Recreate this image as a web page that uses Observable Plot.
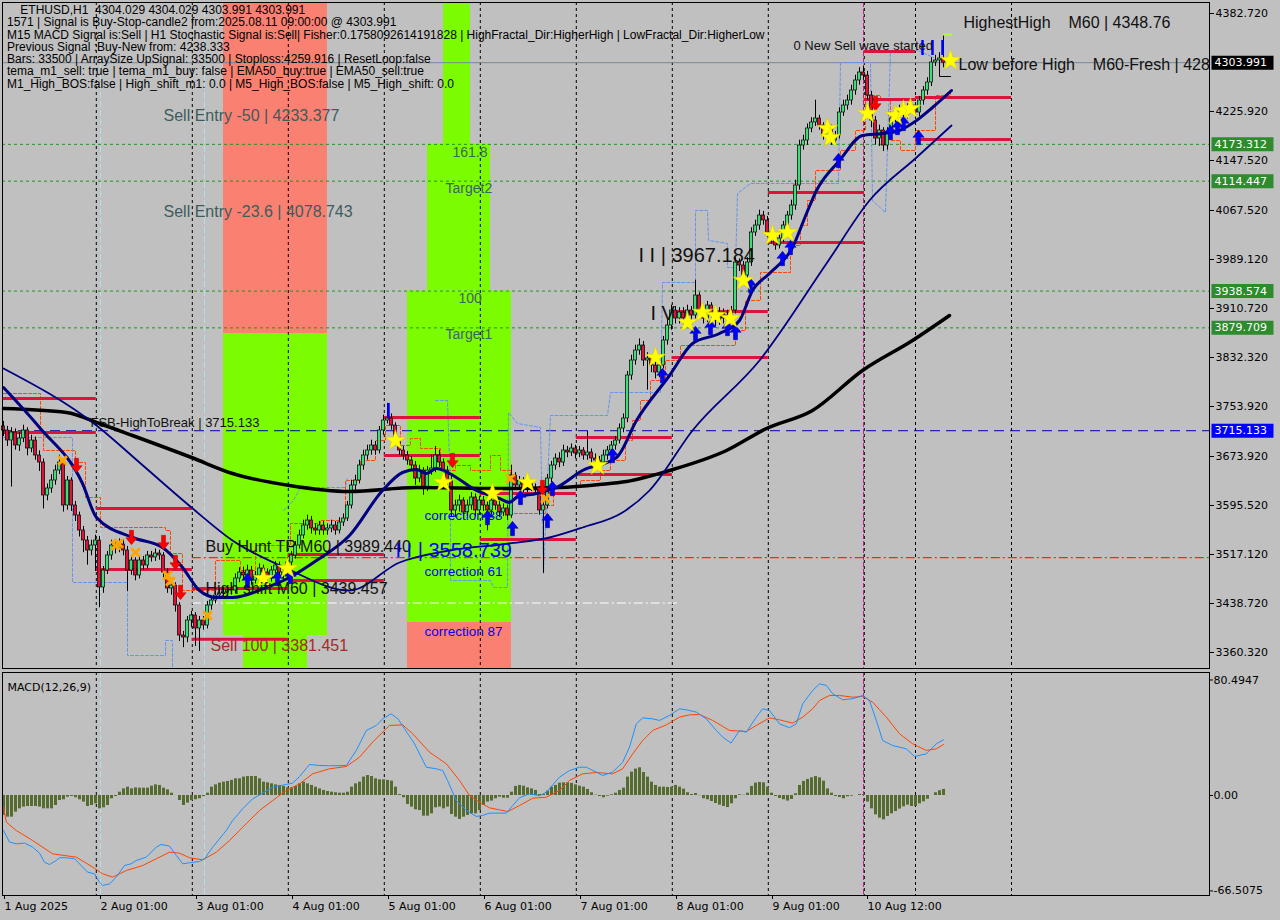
<!DOCTYPE html>
<html><head><meta charset="utf-8">
<script src="https://cdn.jsdelivr.net/npm/d3@7"></script>
<script src="https://cdn.jsdelivr.net/npm/@observablehq/plot@0.6"></script>
<style>
html,body{margin:0;padding:0;background:#c0c0c0;}
body{width:1280px;height:920px;overflow:hidden;position:relative;}
#main{position:absolute;left:0;top:0;}
#macd{position:absolute;left:0;top:670px;}
#header{position:absolute;left:7px;top:4px;font:12px "Liberation Sans",Arial,sans-serif;line-height:12.3px;white-space:pre;color:#000;}
svg{overflow:visible}
</style></head><body>
<div id="main"></div><div id="macd"></div><div id="header"></div>
<script>
// ---------------- DATA ----------------
const headerLines = [
  "    ETHUSD,H1  4304.029 4304.029 4303.991 4303.991",
  "1571 | Signal is Buy-Stop-candle2 from:2025.08.11 09:00:00 @ 4303.991",
  "M15 MACD Signal is:Sell | H1 Stochastic Signal is:Sell| Fisher:0.1758092614191828 | HighFractal_Dir:HigherHigh | LowFractal_Dir:HigherLow",
  "Previous Signal :Buy-New from: 4238.333",
  "Bars: 33500 | ArraySize UpSignal: 33500 | Stoploss:4259.916 | ResetLoop:false",
  "tema_m1_sell: true | tema_m1_buy: false | EMA50_buy:true | EMA50_sell:true",
  "M1_High_BOS:false | High_shift_m1: 0.0 | M5_High_BOS:false | M5_High_shift: 0.0"
];

const tickBars = [0,24,48,72,96,120,144,168,192,215.75];
const tickLabels = ["1 Aug 2025","2 Aug 01:00","3 Aug 01:00","4 Aug 01:00","5 Aug 01:00","6 Aug 01:00","7 Aug 01:00","8 Aug 01:00","9 Aug 01:00","10 Aug 12:00"];
const gridBars = [23.2,47.2,71.2,95.2,119.2,143.2,167.2,191.2,215.2,228,252];
const priceTicks = [4382.72,4225.92,4147.52,4067.52,3989.12,3910.72,3832.32,3753.92,3673.92,3595.52,3517.12,3438.72,3360.32];
const macdTicks = [80.4947, 0, -66.5075];

const firstOpen = 3722;
const closes = [3715.5,3699.5,3712.3,3691.5,3702.7,3715.5,3686.7,3699.5,3675.5,3664.3,
3611.5,3622.7,3635.5,3651.5,3664.3,3595.5,3635.5,3595.5,3579.5,3555.5,
3539.5,3523.5,3531.5,3539.5,3464.3,3491.5,3515.5,3531.5,3526.7,3533.1,
3523.5,3491.5,3507.5,3483.5,3507.5,3499.5,3515.5,3512.3,3518.7,3515.5,
3488.3,3462.7,3467.5,3435.5,3387.5,3384.3,3411.5,3419.5,3398.7,3411.5,
3403.5,3435.5,3443.5,3451.5,3454.7,3456.3,3459.5,3459.5,3478.7,3488.3,
3483.5,3491.5,3475.5,3483.5,3494.7,3488.3,3478.7,3491.5,3499.5,3488.3,
3483.5,3504.3,3515.5,3531.5,3547.5,3563.5,3571.5,3558.7,3555.5,3563.5,
3555.5,3558.7,3563.5,3555.5,3568.3,3574.7,3595.5,3627.5,3635.5,3659.5,
3675.5,3683.5,3691.5,3683.5,3715.5,3731.5,3734.7,3723.5,3699.5,3683.5,
3675.5,3667.5,3659.5,3638.7,3651.5,3622.7,3651.5,3654.7,3675.5,3664.3,
3651.5,3635.5,3587.5,3595.5,3603.5,3584.3,3595.5,3608.3,3587.5,3603.5,
3595.5,3587.5,3603.5,3595.5,3584.3,3590.7,3579.5,3643.5,3627.5,3635.5,
3622.7,3630.7,3624.3,3619.5,3587.5,3595.5,3638.7,3659.5,3670.7,3664.3,
3683.5,3680.3,3686.7,3678.7,3683.5,3675.5,3680.3,3670.7,3667.5,3664.3,
3675.5,3683.5,3691.5,3699.5,3718.7,3734.7,3803.5,3827.5,3843.5,3851.5,
3827.5,3830.7,3819.5,3808.3,3819.5,3859.5,3883.5,3907.5,3894.7,3904.3,
3894.7,3907.5,3899.5,3931.5,3907.5,3894.7,3915.5,3899.5,3891.5,3904.3,
3894.7,3899.5,3907.5,3984.3,3979.5,3963.5,3984.3,4032.3,4043.5,4059.5,
4051.5,4032.3,4022.7,4011.5,4022.7,4043.5,4059.5,4075.5,4107.5,4171.5,
4179.5,4198.7,4208.3,4214.7,4203.5,4187.5,4198.7,4179.5,4187.5,4224.3,
4235.5,4243.5,4259.5,4275.5,4288.3,4283.5,4251.5,4211.5,4182.7,4195.5,
4171.5,4192.3,4214.7,4224.3,4227.5,4219.5,4230.7,4235.5,4224.3,4243.5,
4259.5,4272.3,4304.3,4307.5,4310.7,4303.991];
const highs = [3730,3722,3720,3718,3712,3724,3720,3708,3705,3683,
3670,3630,3645,3660,3676,3670,3642,3640,3602,3585,
3562,3546,3540,3548,3546,3498,3522,3540,3538,3542,
3540,3530,3514,3512,3514,3514,3522,3522,3526,3524,
3520,3494,3474,3472,3440,3394,3418,3426,3424,3418,
3418,3442,3450,3458,3462,3464,3466,3468,3486,3496,
3497,3500,3498,3490,3502,3500,3494,3498,3506,3505,
3494,3512,3522,3538,3556,3572,3580,3578,3566,3570,
3570,3566,3572,3570,3576,3582,3602,3636,3644,3668,
3684,3692,3700,3698,3722,3740,3759,3742,3728,3704,
3690,3682,3674,3666,3660,3656,3658,3676,3690,3684,
3670,3658,3642,3604,3612,3608,3604,3616,3614,3610,
3610,3602,3610,3610,3602,3598,3596,3660,3648,3642,
3640,3638,3636,3630,3626,3602,3645,3666,3678,3680,
3692,3690,3694,3692,3690,3688,3714,3686,3678,3674,
3684,3690,3698,3706,3726,3742,3810,3836,3852,3862,
3858,3840,3836,3826,3828,3866,3892,3916,3914,3912,
3912,3916,3914,3956,3936,3914,3922,3920,3906,3912,
3910,3908,3914,3992,3990,3986,3992,4040,4052,4068,
4066,4058,4038,4028,4030,4050,4066,4084,4116,4180,
4188,4206,4216,4244,4220,4208,4206,4204,4194,4232,
4244,4252,4268,4284,4296,4298,4290,4258,4218,4204,
4200,4200,4222,4232,4236,4234,4238,4242,4240,4250,
4266,4280,4312,4316,4320,4348.76];
const lows = [3706,3690,3625,3684,3682,3696,3675,3680,3668,3650,
3590,3603,3615,3628,3645,3585,3588,3586,3570,3545,
3520,3500,3515,3490,3432,3455,3485,3508,3518,3520,
3515,3458,3484,3475,3478,3492,3494,3505,3506,3508,
3480,3455,3452,3425,3378,3368,3376,3400,3370,3362,
3396,3398,3428,3438,3445,3448,3450,3452,3454,3472,
3476,3476,3468,3470,3478,3480,3472,3473,3486,3482,
3476,3478,3498,3510,3526,3542,3556,3550,3548,3548,
3548,3548,3552,3548,3550,3562,3570,3590,3620,3630,
3652,3668,3676,3676,3678,3708,3726,3716,3692,3676,
3668,3660,3650,3628,3632,3612,3618,3644,3648,3656,
3640,3626,3578,3576,3585,3574,3578,3588,3578,3580,
3586,3555,3580,3588,3576,3578,3572,3575,3620,3620,
3616,3616,3618,3612,3580,3487,3590,3632,3652,3656,
3658,3672,3674,3670,3672,3668,3668,3662,3660,3656,
3658,3668,3676,3684,3694,3712,3728,3796,3820,3836,
3818,3780,3808,3798,3800,3814,3852,3876,3886,3886,
3884,3888,3890,3894,3900,3886,3888,3890,3882,3884,
3886,3886,3890,3902,3970,3952,3958,3978,4026,4036,
4044,4024,4014,4004,4006,4016,4036,4052,4068,4100,
4164,4172,4192,4202,4196,4180,4180,4172,4172,4182,
4218,4228,4236,4252,4268,4276,4244,4200,4172,4170,
4162,4164,4186,4208,4218,4212,4214,4224,4216,4218,
4236,4252,4266,4298,4300,4296];

// moving averages [bar, price]
const sma200 = [[0,3750.7],[15.75,3744.3],[24,3726.7],[32.25,3707.5],[47,3672.3],[57.25,3646.7],[71.5,3627.5],[86.5,3617.9],[103.25,3624.3],[124,3622.7],[139,3624.3],[149,3629.1],[155.75,3633.9],[166.5,3651.5],[180.75,3683.5],[190.75,3718.7],[202.25,3747.5],[214.75,3811.5],[227.25,3859.5],[236.5,3899.5]];
const emaFast = [[0,3784.3],[9,3720.3],[19.75,3630.7],[23.25,3576.3],[32.25,3544.3],[39.75,3528.3],[44.75,3496.3],[49,3459.5],[53.25,3448.3],[57.25,3448.3],[65.75,3464.3],[71.5,3480.3],[78.25,3507.5],[86.5,3547.5],[94.75,3619.5],[99.75,3648.3],[103.25,3653.1],[105.75,3646.7],[108.25,3654.7],[111.5,3646.7],[118.25,3619.5],[124,3606.7],[126.5,3600.3],[128.25,3608.3],[133.25,3614.7],[138.25,3624.3],[144.75,3651.5],[153.25,3672.3],[158.25,3731.5],[166.5,3803.5],[172.25,3854.7],[179,3870.7],[184,3891.5],[187.25,3939.5],[191.5,3966.7],[197.25,4008.3],[200.75,4062.7],[203.25,4099.5],[209,4147.5],[214.75,4187.5],[219.75,4190.7],[224,4195.5],[228.25,4211.5],[232.25,4232.3],[237,4259.5]];
const emaSlow = [[0,3814.7],[23.25,3723.5],[34,3664.3],[47,3592.3],[57.25,3539.5],[70.75,3494.7],[86.5,3459.5],[99,3504.3],[111.5,3523.5],[126.5,3534.7],[136.5,3544.3],[144.75,3560.3],[154.75,3584.3],[161.5,3619.5],[172.25,3715.5],[189,3827.5],[205.75,3982.7],[216.5,4083.5],[228.25,4152.3],[237,4203.5]];

// trailing stop lines
const orangeTrail = [[0,3774.7],[9.25,3715.5],[10,3683.5],[16.75,3683.5],[18,3664.3],[20.5,3608.3],[24.25,3560.3],[40.5,3555.5],[41.75,3518.7],[44.75,3459.5],[49.25,3459.5],[53,3507.5],[59.25,3491.5],[63,3531.5],[71.75,3566.7],[79.25,3571.5],[85.5,3635.5],[89.25,3667.5],[93,3699.5],[95.5,3723.5],[99.25,3691.5],[101.75,3702.7],[104.25,3686.7],[109.25,3651.5],[113,3659.5],[116.75,3651.5],[121.75,3675.5],[124.25,3651.5],[126.75,3582.7],[135.5,3595.5],[137.5,3624.3],[144.25,3635.5],[149.25,3651.5],[151.75,3667.5],[155.5,3699.5],[157.25,3731.5],[159.25,3763.5],[161.75,3795.5],[165.5,3827.5],[169.25,3851.5],[183,3875.5],[185.5,3923.5],[189.25,3968.3],[196.75,4011.5],[199.25,4043.5],[201,4083.5],[203,4131.5],[209.25,4163.5],[213,4195.5],[215.5,4251.5],[219.25,4243.5],[221.75,4179.5],[224.25,4163.5],[228,4195.5],[233,4251.5],[236.75,4259.5]];
const blueTrailA = [[0,3704.3],[17.25,3704.3],[17.25,3472.3],[31,3472.3],[31,3355.5],[40.5,3355.5],[40.5,3379.5],[42.25,3379.5],[42.25,3334.7]];
const blueTrailB = [[70,3587.5],[72.5,3603.5],[74.25,3624.3],[85.5,3624.3],[86,3640]];
const blueTrailC = [[108,3763.5],[111,3763.5],[111.75,3619.5],[111.75,3475.5],[121.75,3475.5],[122.5,3464.3],[126,3464.3],[126.25,3744.3],[128.5,3726.7],[134.25,3720.3],[135,3486.7],[136.75,3739.5],[151,3739.5],[151.75,3776.3],[164.25,3776.3],[164.75,3952.3],[173,3952.3],[173,4067.5],[176,4067.5],[176.25,4019.5],[181,4014.7],[181,3976.3],[183,3976.3],[183.5,4094.7],[186.75,4110.7],[208.75,4110.7],[209.25,4304.3],[216.75,4304.3],[217.25,4083.5],[220.5,4064.3],[221.75,4323.5],[228.5,4323.5],[232.5,4312.3]];

// zones
const salmonZones = [{b1:55,b2:81,p1:3870.7,p2:4400.3},{b1:101,b2:127,p1:3334.7,p2:3408.3}];
const greenZones = [{b1:55,b2:81,p1:3387.5,p2:3870.7},{b1:60,b2:76,p1:3334.7,p2:3387.5},{b1:110,b2:116.75,p1:4173.312,p2:4400.3},{b1:106,b2:121.75,p1:3938.574,p2:4173.312},{b1:101,b2:127,p1:3408.3,p2:3938.574}];

// levels
const greenLevels = [4173.312, 4114.447, 3938.574, 3879.709];
const fsbLevel = [3715.133];
const lastPrice = [4303.991];
const redDashDot = [{p:3512, b1:47.2, b2:301.5}];
const whiteDashDot = [{p:3439.457, b1:47.2, b2:168.75}];
const redSegments = [
 {b1:0,b2:23.2,p:3766.7},{b1:0,b2:23.2,p:3712.3},
 {b1:23.2,b2:47.2,p:3590.7},{b1:23.2,b2:47.2,p:3493.1},
 {b1:47.2,b2:71.2,p:3462.7},{b1:47.2,b2:71.2,p:3381.451},
 {b1:71.2,b2:95.2,p:3517.1},{b1:71.2,b2:95.2,p:3475.5},
 {b1:95.2,b2:119.2,p:3736.3},{b1:95.2,b2:119.2,p:3675.5},
 {b1:119.2,b2:143.2,p:3614.7},{b1:119.2,b2:143.2,p:3541.1},
 {b1:143.2,b2:167.2,p:3704.3},{b1:143.2,b2:167.2,p:3645.1},
 {b1:167.2,b2:191.2,p:3905.9},{b1:167.2,b2:191.2,p:3832.3},
 {b1:191.2,b2:215.2,p:4096.3},{b1:191.2,b2:215.2,p:4016.3},
 {b1:215.2,b2:228,p:4321.9},{b1:215.2,b2:228,p:4245.1},
 {b1:228,b2:252,p:4248.3},{b1:228,b2:252,p:4181.1}];
const blueTicks = [{b:229.75,p1:4339.5,p2:4315.5},{b:232.25,p1:4339.5,p2:4315.5},{b:234.75,p1:4339.5,p2:4315.5},{b:96.25,p1:3758.7,p2:3734.7}];
const magentaBar = [215];
const cyanBars = [24.25, 50.25];

// markers [bar, price]
const stars = [[65,3478.7],[71,3494.7],[98,3699.5],[110,3632.3],[122.25,3614.7],[131,3632.3],[148.5,3659.5],[163,3832.3],[171,3888.3],[174.75,3904.3],[178,3899.5],[181.75,3894.7],[185,3955.5],[192.25,4027.5],[196,4032.3],[206,4198.7],[206.75,4184.3],[216,4222.7],[223,4219.5],[225,4227.5],[226.75,4230.7],[236.75,4307.5]];
const upArrows = [[61,3475.5],[68.5,3478.7],[71.75,3481.9],[121,3576.3],[127.25,3558.7],[129.25,3608.3],[136,3571.5],[137.25,3622.7],[152.25,3675.5],[164.75,3803.5],[173,3870.7],[176.75,3880.3],[181,3878.7],[183,3872.3],[186.75,3947.5],[194.75,3990.7],[196.75,4008.3],[208.75,4147.5],[221.75,4192.3],[223.5,4200.3],[225,4206.7],[228.75,4184.3]];
const downArrows = [[18.25,3659.5],[32,3544.3],[40,3536.3],[43,3504.3],[44.25,3456.3],[112.25,3667.5],[134.75,3624.3],[218,4238.7]];
const crosses = [[14.75,3667.5],[28,3531.5],[28.75,3534.7],[33,3520.3],[41,3483.5],[41.75,3474.3],[51,3419.5],[126.75,3638.7],[135.5,3606.7]];

// chart notes [text, bar, price]
const slateNotes = [["Sell Entry -50 | 4233.377",40,4219.5],["Sell Entry -23.6 | 4078.743",40,4065.9]];
const zoneNotes = [["161.8",112.25,4160.3],["Target2",110.5,4102.7],["100",113.75,3926.7],["Target1",110.5,3869.1]];
const correctionNotes = [["correction 38",105.25,3579.5],["correction 61",105.25,3489.9],["correction 87",105.25,3393.9]];
const blackNotes = [["Buy Hunt TP M60 | 3989.440",50.5,3529.9],["High shift M60 | 3439.457",50.5,3462.7],["HighestHigh\u00a0\u00a0\u00a0\u00a0M60 | 4348.76",240,4368.3],["Low before High\u00a0\u00a0\u00a0\u00a0M60-Fresh | 428",238.75,4301.1]];
const sellNote = [["Sell 100 | 3381.451",51.75,3371.5]];
const waveNotes = [["I I | 3967.184",158.75,3995.5],["I V",161.75,3902.7]];
const waveBlueNote = [["I I | 3558.739",98,3523.5]];
const smallNotes = [["FSB-HighToBreak | 3715.133",21.75,3728.3],["0 New Sell wave started",197.5,4331.5]];

// MACD
const histogram = [-13.9,-15.1,-15.1,-11.6,-9.3,-8.1,-7.7,-7.7,-7.7,-8.1,
-9.3,-9.3,-9.3,-7.0,-3.5,-3.0,-1.2,-0.7,-1.6,-3.0,
-4.6,-7.7,-7.0,-5.8,-9.3,-8.6,-7.0,-2.3,-0.7,2.3,
4.6,5.8,4.6,5.3,5.1,5.1,5.1,6.5,7.4,7.0,
5.1,3.9,1.6,0,-3.5,-7.0,-5.3,-3.5,-3.0,-2.3,
-0.7,1.6,5.8,7.4,8.6,9.3,9.8,10.5,11.6,11.6,
12.8,13.2,13.2,13.2,11.6,9.3,8.8,8.1,7.4,7.0,
6.3,5.3,5.3,6.3,8.1,9.3,8.1,7.0,5.8,4.6,
3.5,2.8,2.3,1.9,1.6,1.6,2.3,5.8,8.1,9.3,
12.8,13.9,13.2,11.6,10.9,10.9,10.5,10.0,5.8,0.7,
-1.6,-6.3,-8.1,-10.0,-10.5,-14.4,-14.4,-12.8,-8.6,-8.1,
-9.3,-8.1,-13.2,-15.1,-16.7,-15.1,-13.9,-12.8,-12.8,-10.5,
-7.0,-4.6,-3.9,-2.3,-1.2,-1.9,-1.9,2.3,6.3,7.0,
6.5,5.3,4.6,3.5,0.7,0.7,3.0,5.8,7.0,8.6,
8.8,8.8,8.4,7.4,6.5,5.8,4.2,1.9,0.2,-0.7,
-1.6,-0.5,0.5,1.6,3.5,5.1,12.8,16.3,18.4,19.3,
16.0,12.8,9.3,7.0,5.8,5.8,5.6,5.8,7.0,5.8,
4.4,1.9,0.7,1.4,-0.2,-2.3,-3.0,-4.2,-5.6,-6.7,
-7.7,-8.4,-5.8,-2.3,0.5,0.2,1.6,6.3,8.6,9.1,
8.8,5.8,1.6,-0.7,-2.1,-3.0,-3.9,-2.8,1.2,7.0,
9.8,11.2,12.3,13.2,12.3,10.0,4.6,1.6,-0.7,-1.4,
-2.3,-0.9,-0.5,0,0.7,0.7,-4.6,-9.3,-13.5,-15.8,
-17.0,-14.6,-12.8,-11.2,-9.5,-7.9,-6.7,-7.7,-7.7,-5.8,
-4.4,-2.6,0,1.9,3.3,4.2];
const macdMain = [[0,-24.4],[1.5,-32.5],[3.2,-33.7],[5.25,-33.2],[7.3,-36.0],[9,-40.2],[10.25,-46.5],[11.5,-48.1],[13.2,-45.3],[14,-43.4],[15.7,-43.4],[17.75,-44.1],[19.8,-49.9],[21,-53.4],[22.75,-54.6],[24,-60.4],[24.8,-62.7],[26.5,-61.6],[28.2,-56.9],[30.25,-48.8],[31.9,-47.6],[33.2,-45.3],[35.7,-43.0],[38.2,-36.0],[39.4,-34.1],[41.5,-35.3],[43.2,-41.8],[44.8,-47.6],[46.5,-46.9],[49,-46.0],[50.25,-44.1],[52.3,-36.0],[55.7,-24.4],[57.3,-17.4],[59.8,-9.3],[62.3,-2.3],[64.8,1.6],[67.3,5.8],[70.7,7.7],[72.3,8.6],[74,13.2],[76.5,21.6],[79,20.9],[81.5,20.7],[85.7,20.9],[88.2,31.4],[90.7,45.3],[93.2,48.8],[94.8,53.4],[96.9,56.9],[98.6,53.4],[100.25,46.5],[102.75,36.0],[105.7,19.7],[108.2,18.6],[109.8,17.4],[111,10.5],[113.2,-3.5],[115.7,-10.5],[118.2,-14.6],[119.8,-13.9],[121.5,-12.3],[124,-12.3],[125.7,-12.3],[127.3,-7.0],[129,-1.6],[131.5,1.2],[134,-0.2],[135.7,2.3],[139,12.8],[141.5,17.4],[144,19.7],[145.7,19.7],[148.2,16.3],[149.8,13.9],[152.3,16.3],[154.8,23.2],[156.5,33.7],[158.2,49.9],[159.8,54.1],[162.3,53.4],[164,52.3],[166.5,55.8],[169,60.4],[170.7,59.7],[173.2,58.1],[175.7,53.4],[178.2,45.3],[179.8,40.7],[181.9,36.5],[184,45.3],[185.7,44.1],[188.2,54.6],[189.8,60.4],[191.5,59.2],[194,49.9],[196.5,47.2],[198.2,49.9],[199.8,63.9],[202.3,73.2],[204,77.8],[205.7,76.7],[207.3,70.9],[209.8,66.7],[212.3,67.4],[214.8,69.7],[216.5,66.2],[218.2,52.3],[219.8,38.3],[222.3,34.8],[225.7,32.5],[227.75,27.2],[230.7,29.0],[233.2,36.0],[235,38.8]];
const macdSignal = [[0,-8.1],[0.7,-18.6],[3.2,-24.4],[7.3,-31.4],[12.3,-40.7],[18.2,-43.0],[22.3,-49.9],[24.8,-54.6],[27.3,-56.9],[30.7,-52.3],[34.8,-48.8],[38.2,-44.1],[41.5,-39.5],[44,-40.2],[46.5,-43.4],[49.8,-44.8],[53.2,-39.5],[56.5,-31.4],[59.8,-22.1],[64,-10.5],[67.3,-3.5],[70.7,3.5],[74,8.1],[77.3,15.1],[81.5,18.6],[85.7,20.2],[89,26.7],[92.3,37.2],[96.5,48.8],[99.8,49.2],[102.3,43.0],[106.5,30.2],[110.7,22.1],[114,10.5],[116.5,0],[119,-4.6],[121.5,-8.6],[124,-10.0],[126.1,-11.2],[129,-7.0],[132.3,-1.9],[135.7,-1.2],[139,3.5],[141.5,10.5],[144.8,15.1],[148.2,16.0],[152.3,15.1],[154.8,18.6],[157.3,29.0],[159.8,38.3],[162.3,45.3],[165.7,49.2],[169,54.6],[171.5,56.2],[174,56.4],[177.3,52.3],[181.5,45.3],[185.7,44.6],[188.2,48.8],[191.5,54.1],[194,52.7],[197.3,50.4],[199.8,54.6],[202.3,60.4],[204,66.2],[206.5,69.7],[209,69.7],[212.3,68.5],[214.8,69.0],[217.3,65.0],[220.7,54.6],[224,43.0],[227.3,36.0],[230.7,31.4],[233.2,32.5],[235,35.5]];

// ---------------- BUILD ----------------
document.getElementById("header").textContent = headerLines.join("\n");

const candles = closes.map((c, i) => ({i, open: i ? closes[i-1] : firstOpen, close: c, high: highs[i], low: lows[i]}));
const X = d => d[0], Y = d => d[1];
const FONT = "Liberation Sans, Arial, sans-serif";

function arrow(dir) { // dir -1 up, +1 down
  return {draw(ctx, size) {
    const r = Math.sqrt(size / Math.PI), s = dir;
    ctx.moveTo(0, s*1.6*r);
    ctx.lineTo(1.25*r, s*0.05*r);
    ctx.lineTo(0.45*r, s*0.05*r);
    ctx.lineTo(0.45*r, -s*1.6*r);
    ctx.lineTo(-0.45*r, -s*1.6*r);
    ctx.lineTo(-0.45*r, s*0.05*r);
    ctx.lineTo(-1.25*r, s*0.05*r);
    ctx.closePath();
  }};
}
const boxSym = {draw(ctx) { ctx.moveTo(-31,-7); ctx.lineTo(31,-7); ctx.lineTo(31,7); ctx.lineTo(-31,7); ctx.closePath(); }};

function notes(arr, color, size, extra = {}) {
  return Plot.text(arr, {x: d => d[1], y: d => d[2], text: d => d[0], fill: color, fontSize: size, fontFamily: FONT, textAnchor: "start", ...extra});
}
function axisBoxes(values, bg) {
  return [
    Plot.dot(values, {y: d => d, frameAnchor: "right", dx: 33, symbol: boxSym, fill: bg, r: 5}),
    Plot.text(values, {y: d => d, text: d => d.toFixed(3), frameAnchor: "right", dx: 5, textAnchor: "start", fill: "white", fontSize: 11, fontFamily: "DejaVu Sans"})
  ];
}

const mainPlot = Plot.plot({
  width: 1280, height: 670,
  marginLeft: 2, marginRight: 71, marginTop: 2, marginBottom: 2,
  x: {domain: [-0.25, 301.5], axis: null},
  y: {domain: [3334.7, 4400.3]},
  style: {background: "#c0c0c0", fontFamily: "DejaVu Sans", fontSize: "11px", color: "black", overflow: "visible"},
  marks: [
    Plot.rect(salmonZones, {x1: "b1", x2: "b2", y1: "p1", y2: "p2", fill: "#fa8072"}),
    Plot.rect(greenZones, {x1: "b1", x2: "b2", y1: "p1", y2: "p2", fill: "#7cfc00"}),
    Plot.ruleX(gridBars, {stroke: "black", strokeDasharray: "3,3", strokeWidth: 1}),
    Plot.ruleX(cyanBars, {stroke: "#b0e0f0", strokeDasharray: "6,3", strokeWidth: 1}),
    Plot.ruleX(magentaBar, {stroke: "#c0208a", strokeDasharray: "5,2", strokeWidth: 1}),
    Plot.ruleY(greenLevels, {stroke: "#1a9a1a", strokeDasharray: "3,3", strokeWidth: 1}),
    Plot.ruleY(fsbLevel, {stroke: "#0000a0", strokeDasharray: "10,6", strokeWidth: 1}),
    Plot.ruleY(lastPrice, {stroke: "#778899", strokeWidth: 1}),
    Plot.ruleY(redDashDot, {y: "p", x1: "b1", x2: "b2", stroke: "#ff0000", strokeDasharray: "9,3,2,3", strokeWidth: 1}),
    Plot.ruleY(whiteDashDot, {y: "p", x1: "b1", x2: "b2", stroke: "#ffffff", strokeDasharray: "9,3,2,3", strokeWidth: 1}),
    Plot.line(orangeTrail, {x: X, y: Y, stroke: "#ff4500", strokeWidth: 1, strokeDasharray: "3,2", curve: "step-after"}),
    Plot.line(blueTrailA, {x: X, y: Y, stroke: "#6495ed", strokeWidth: 1, strokeDasharray: "3,2"}),
    Plot.line(blueTrailB, {x: X, y: Y, stroke: "#6495ed", strokeWidth: 1, strokeDasharray: "3,2"}),
    Plot.line(blueTrailC, {x: X, y: Y, stroke: "#6495ed", strokeWidth: 1, strokeDasharray: "3,2"}),
    Plot.ruleY(redSegments, {y: "p", x1: "b1", x2: "b2", stroke: "#dc143c", strokeWidth: 3}),
    // candles
    Plot.ruleX(candles, {x: "i", y1: "low", y2: "high", stroke: "black", strokeWidth: 1}),
    Plot.rect(candles, {x1: d => d.i - 0.4, x2: d => d.i + 0.4, y1: "open", y2: d => d.close === d.open ? d.close + 0.8 : d.close,
      fill: d => d.close >= d.open ? "#3fdc78" : "#dc143c", stroke: "black", strokeWidth: 0.7}),
    // moving averages
    Plot.line(sma200, {x: X, y: Y, stroke: "black", strokeWidth: 3.5, curve: "monotone-x"}),
    Plot.line(emaSlow, {x: X, y: Y, stroke: "#000080", strokeWidth: 1.8, curve: "monotone-x"}),
    Plot.line(emaFast, {x: X, y: Y, stroke: "#000080", strokeWidth: 3, curve: "monotone-x"}),
    Plot.ruleX(blueTicks, {x: "b", y1: "p1", y2: "p2", stroke: "#0000ff", strokeWidth: 2.5}),
    Plot.ruleY([4349], {x1: 235, x2: 237.2, stroke: "#adff2f", strokeWidth: 2}),
    Plot.line([[234,4304.3],[234,4281.9],[236.75,4281.9]], {x: X, y: Y, stroke: "black", strokeWidth: 1}),
    // markers
    Plot.dot(crosses, {x: X, y: Y, symbol: "times", stroke: "#ffa500", strokeWidth: 3, r: 4}),
    Plot.dot(downArrows, {x: X, y: Y, symbol: arrow(1), fill: "#ff0000", stroke: "#b00000", strokeWidth: 0.5, r: 4.5}),
    Plot.dot(upArrows, {x: X, y: Y, symbol: arrow(-1), fill: "#0000ff", stroke: "#000080", strokeWidth: 0.5, r: 4.5}),
    Plot.dot(stars, {x: X, y: Y, symbol: "star", fill: "#ffff00", stroke: "#d8c800", strokeWidth: 0.5, r: 6.5}),
    // notes
    notes(slateNotes, "#3d5c5c", 16),
    notes(zoneNotes, "#3d6464", 14),
    notes(correctionNotes, "#0000ff", 13.5),
    notes(blackNotes, "#111111", 16),
    notes(sellNote, "#a52a2a", 16),
    notes(waveNotes, "#111111", 20),
    notes(waveBlueNote, "#0000ff", 20),
    notes(smallNotes, "#111111", 13),
    Plot.frame({stroke: "black"}),
    Plot.axisY(priceTicks, {anchor: "right", tickSize: 4, tickPadding: 2, tickFormat: d => d.toFixed(3), label: null, fontSize: 11}),
    ...axisBoxes(greenLevels, "#2e8b2e"),
    ...axisBoxes(fsbLevel, "#0000ff"),
    ...axisBoxes(lastPrice, "#000000")
  ]
});
document.getElementById("main").appendChild(mainPlot);

const labelByBar = new Map(tickBars.map((b, k) => [b, tickLabels[k]]));
const macdPlot = Plot.plot({
  width: 1280, height: 250,
  marginLeft: 2, marginRight: 71, marginTop: 2, marginBottom: 25,
  x: {domain: [-0.25, 301.5]},
  y: {domain: [-69.7, 85.7]},
  style: {background: "#c0c0c0", fontFamily: "DejaVu Sans", fontSize: "11px", color: "black", overflow: "visible"},
  marks: [
    Plot.ruleX(gridBars, {stroke: "black", strokeDasharray: "3,3", strokeWidth: 1}),
    Plot.ruleX(cyanBars, {stroke: "#b0e0f0", strokeDasharray: "6,3", strokeWidth: 1}),
    Plot.ruleX(magentaBar, {stroke: "#c0208a", strokeDasharray: "5,2", strokeWidth: 1}),
    Plot.ruleX(histogram, {x: (d, i) => i, y1: 0, y2: d => d, stroke: "#556b2f", strokeWidth: 3}),
    Plot.line(macdSignal, {x: X, y: Y, stroke: "#ff4500", strokeWidth: 1}),
    Plot.line(macdMain, {x: X, y: Y, stroke: "#1e90ff", strokeWidth: 1}),
    Plot.text(["MACD(12,26,9)"], {frameAnchor: "top-left", dx: 5, dy: 11, textAnchor: "start", fill: "black", fontSize: 11}),
    Plot.frame({stroke: "black"}),
    Plot.axisY(macdTicks, {anchor: "right", tickSize: 3, tickPadding: 1, tickFormat: d => d === 0 ? "0.00" : String(d), label: null, fontSize: 11}),
    Plot.axisX(tickBars, {anchor: "bottom", tickSize: 4, tickPadding: 3, tickFormat: d => labelByBar.get(d), textAnchor: "start", dx: 1, label: null, fontSize: 11})
  ]
});
document.getElementById("macd").appendChild(macdPlot);
</script></body></html>
